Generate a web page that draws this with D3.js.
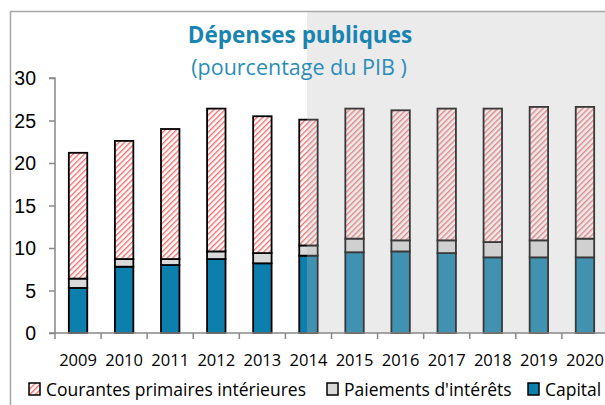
<!DOCTYPE html>
<html>
<head>
<meta charset="utf-8">
<script src="https://cdn.jsdelivr.net/npm/d3@7"></script>
<style>
  body { margin: 0; background: #fff; }
  svg { display: block; font-family: "Open Sans", sans-serif; }
</style>
</head>
<body>
<div class="chart"></div>
<script>
var years = ['2009', '2010', '2011', '2012', '2013', '2014', '2015', '2016', '2017', '2018', '2019', '2020'];
var capital = [5.3, 7.8, 8.0, 8.7, 8.2, 9.1, 9.5, 9.6, 9.4, 8.9, 8.9, 8.9];
var interets = [1.1, 0.9, 0.7, 0.9, 1.2, 1.2, 1.6, 1.3, 1.5, 1.8, 2.0, 2.2];
var courantes = [14.8, 13.9, 15.3, 16.8, 16.1, 14.8, 15.3, 15.3, 15.5, 15.7, 15.7, 15.5];
var yTicks = [0, 5, 10, 15, 20, 25, 30];
var seriesNames = ['Courantes primaires intérieures', "Paiements d'intérêts", 'Capital'];

var width = 605, height = 405;
var x0 = 55, x1 = 608, yBase = 333, yTop = 78;

var svg = d3.select('.chart')
  .append('svg')
  .attr('width', width)
  .attr('height', height);

var defs = svg.append('defs');
var pat = defs.append('pattern')
  .attr('id', 'hatch')
  .attr('patternUnits', 'userSpaceOnUse')
  .attr('width', 4)
  .attr('height', 4)
  .attr('patternTransform', 'rotate(45)');
pat.append('rect').attr('width', 4).attr('height', 4).attr('fill', '#fff');
pat.append('rect').attr('width', 1.4).attr('height', 4).attr('fill', '#f46e6e');

// frame
svg.append('path')
  .attr('d', `M10.5,${height} V11.5 H${width}`)
  .attr('fill', 'none')
  .attr('stroke', '#a6a6a6')
  .attr('stroke-width', 1.5);

//scales
var xScale = d3.scaleBand()
  .domain(years)
  .range([x0, x1])
  .paddingInner(0.6)
  .paddingOuter(0.3);

var yScale = d3.scaleLinear()
  .domain([0, 30])
  .range([yBase, yTop]);

var stackData = years.map((y, i) => ({year: y, courantes: courantes[i], interets: interets[i], capital: capital[i]}));
var keys = ['capital', 'interets', 'courantes'];
var fills = {capital: '#0c7fac', interets: '#d9d9d9', courantes: 'url(#hatch)'};
var stacked = d3.stack().keys(keys)(stackData);

var layers = svg.selectAll('.layer')
  .data(stacked)
  .enter()
  .append('g')
  .attr('class', 'layer')
  .style('fill', d => fills[d.key]);

layers.selectAll('rect')
  .data(d => d)
  .enter()
  .append('rect')
  .attr('x', d => xScale(d.data.year))
  .attr('width', xScale.bandwidth())
  .attr('y', d => yScale(d[1]))
  .attr('height', d => yScale(d[0]) - yScale(d[1]))
  .style('stroke', '#000')
  .style('stroke-width', 1.8);

// projection shade
var step = xScale.step();
svg.append('rect')
  .attr('x', 307)
  .attr('y', 12)
  .attr('width', width - 307)
  .attr('height', yBase - 12)
  .style('fill', 'rgb(190,190,190)')
  .style('fill-opacity', 0.3);

// y axis
var yAxis = d3.axisLeft(yScale).tickValues(yTicks).tickSize(6).tickPadding(20);
var gy = svg.append('g')
  .attr('transform', `translate(${x0}, 0)`)
  .call(yAxis);
gy.selectAll('text').style('font-size', '19.5px').style('fill', '#000')
  .attr('x', -19).attr('dy', '0.35em');
gy.select('.domain').attr('d', `M-6,${yTop}H0V${yBase}`);

// x axis with ticks between categories
svg.append('line')
  .attr('x1', x0 - 6).attr('x2', width)
  .attr('y1', yBase).attr('y2', yBase);
svg.selectAll('.xtick')
  .data(years.map((y, i) => x0 + i * step))
  .enter()
  .append('line')
  .attr('class', 'xtick')
  .attr('x1', d => d).attr('x2', d => d)
  .attr('y1', yBase).attr('y2', yBase + 6);
svg.selectAll('line').style('stroke', '#888').style('stroke-width', 1.5);
gy.selectAll('line, path').style('stroke', '#888').style('stroke-width', 1.5);

svg.selectAll('.xlabel')
  .data(years)
  .enter()
  .append('text')
  .attr('class', 'xlabel')
  .attr('x', d => xScale(d) + xScale.bandwidth() / 2)
  .attr('y', 366)
  .style('text-anchor', 'middle')
  .style('font-size', '16.5px')
  .style('fill', '#000')
  .text(d => d);

// title
svg.append('text')
  .attr('x', 300).attr('y', 43)
  .style('text-anchor', 'middle')
  .style('font-size', '22.5px')
  .style('font-weight', 'bold')
  .style('fill', '#1a84b0')
  .text('Dépenses publiques');
svg.append('text')
  .attr('x', 299).attr('y', 75)
  .style('text-anchor', 'middle')
  .style('font-size', '21.5px')
  .style('fill', '#2a8db8')
  .text('(pourcentage du PIB )');

// legend
var legendX = [29, 327, 528];
var legendFill = ['url(#hatch)', '#d9d9d9', '#0c7fac'];
var legend = svg.selectAll('.legend')
  .data(seriesNames)
  .enter()
  .append('g')
  .attr('class', 'legend')
  .attr('transform', (d, i) => `translate(${legendX[i]}, 383)`);
legend.append('rect')
  .attr('width', 11).attr('height', 12)
  .style('fill', (d, i) => legendFill[i])
  .style('stroke', '#000')
  .style('stroke-width', 1.5);
legend.append('text')
  .attr('x', 17).attr('y', 12.5)
  .style('font-size', '17.5px')
  .style('fill', '#000')
  .text(d => d);
</script>
</body>
</html>
